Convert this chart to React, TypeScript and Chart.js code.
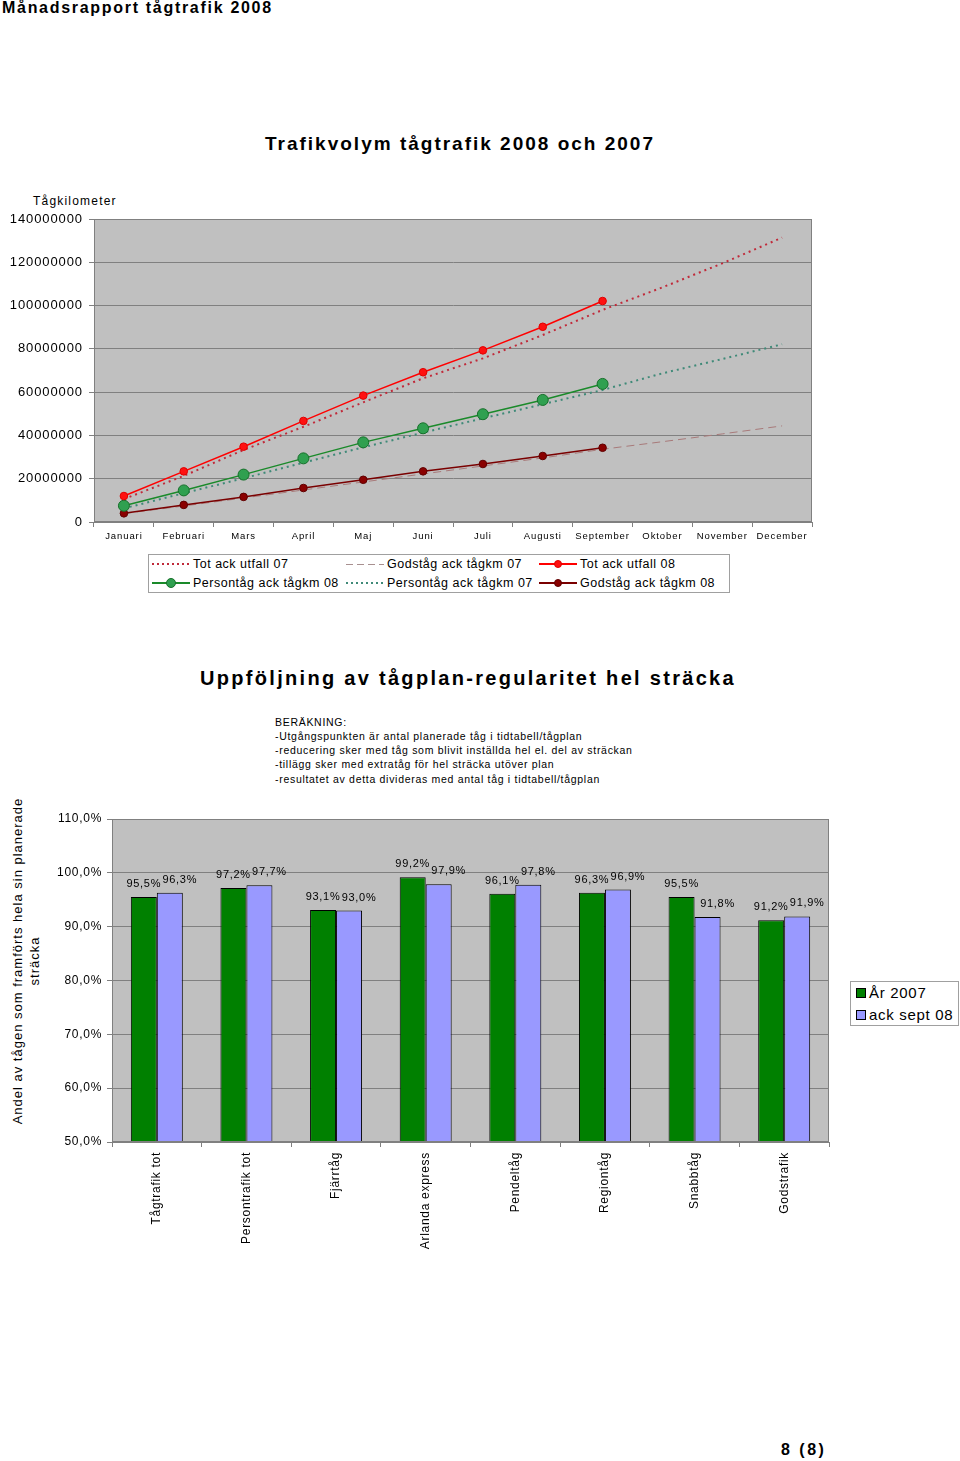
import React, { useEffect, useRef } from 'react';
import { Chart, registerables } from 'chart.js';

Chart.register(...registerables);

const FONT = '"Liberation Sans", Arial, Helvetica, sans-serif';

// ---- Line chart data (Tågkilometer) ----
const months = ['Januari', 'Februari', 'Mars', 'April', 'Maj', 'Juni', 'Juli', 'Augusti', 'September', 'Oktober', 'November', 'December'];
const yTickValues = [0, 20000000, 40000000, 60000000, 80000000, 100000000, 120000000, 140000000];
const totAckUtfall07 = [10600000, 21300000, 33300000, 44000000, 55300000, 66400000, 75600000, 86400000, 98000000, 108400000, 119500000, 131400000];
const godstagAck07 = [3900000, 7400000, 11100000, 14800000, 18500000, 22200000, 25900000, 29600000, 33600000, 37100000, 40700000, 44400000];
const persontagAck07 = [6300000, 13300000, 20200000, 27400000, 34500000, 41300000, 47900000, 54400000, 61000000, 68700000, 75300000, 82100000];
const totAckUtfall08 = [12000000, 23400000, 34800000, 46700000, 58400000, 69200000, 79300000, 90200000, 102100000];
const persontagAck08 = [7500000, 14600000, 21900000, 29400000, 36800000, 43300000, 49800000, 56400000, 63800000];
const godstagAck08 = [4000000, 7900000, 11600000, 15700000, 19500000, 23400000, 26800000, 30500000, 34300000];

// ---- Bar chart data (regularitet) ----
const barCategories = ['Tågtrafik tot', 'Persontrafik tot', 'Fjärrtåg', 'Arlanda express', 'Pendeltåg', 'Regiontåg', 'Snabbtåg', 'Godstrafik'];
const ar2007 = [95.5, 97.2, 93.1, 99.2, 96.1, 96.3, 95.5, 91.2];
const ackSept08 = [96.3, 97.7, 93.0, 97.9, 97.8, 96.9, 91.8, 91.9];
const barSeriesNames = ['År 2007', 'ack sept 08'];

const beraknText = [
  'BERÄKNING:',
  '-Utgångspunkten är antal planerade tåg i tidtabell/tågplan',
  '-reducering sker med tåg som blivit inställda hel el. del av sträckan',
  '-tillägg sker med extratåg för hel sträcka utöver plan',
  '-resultatet av detta divideras med antal tåg i tidtabell/tågplan',
];

const pct = (v: number) => v.toFixed(1).replace('.', ',') + '%';

function framePlugin(bg: string, border: string, spacing: string) {
  return {
    id: 'frame',
    beforeDraw(chart: any) {
      const { ctx, chartArea } = chart;
      const { left, top, right, bottom } = chartArea;
      ctx.save();
      ctx.fillStyle = bg;
      ctx.fillRect(left, top, right - left, bottom - top);
      ctx.restore();
      ctx.letterSpacing = spacing;
    },
    afterDraw(chart: any) {
      const { ctx, chartArea } = chart;
      const { left, top, right, bottom } = chartArea;
      ctx.save();
      ctx.strokeStyle = border;
      ctx.lineWidth = 1;
      ctx.strokeRect(Math.round(left) + 0.5, Math.round(top) + 0.5, Math.round(right - left) - 1, Math.round(bottom - top) - 1);
      ctx.restore();
      ctx.letterSpacing = '0px';
    },
  };
}

const barLabelPlugin = {
  id: 'barLabels',
  afterDatasetsDraw(chart: any) {
    const { ctx } = chart;
    ctx.save();
    ctx.letterSpacing = '0.7px';
    ctx.font = `11px ${FONT}`;
    ctx.fillStyle = '#000';
    ctx.textAlign = 'center';
    ctx.textBaseline = 'middle';
    chart.data.datasets.forEach((ds: any, di: number) => {
      const meta = chart.getDatasetMeta(di);
      meta.data.forEach((el: any, i: number) => {
        const dx = di === 1 ? 10 : 0;
        ctx.fillText(pct(ds.data[i]), el.x + dx, el.y - 13);
      });
    });
    ctx.restore();
  },
};

function LineChart() {
  const ref = useRef<HTMLCanvasElement>(null);
  useEffect(() => {
    const c = ref.current!;
    const chart = new Chart(c, {
      type: 'line',
      data: {
        labels: months,
        datasets: [
          { label: 'Tot ack utfall 08', data: totAckUtfall08, borderColor: '#ff0000', backgroundColor: '#ff1010', borderWidth: 1.5, pointRadius: 3.8, pointBackgroundColor: '#ff1010', pointBorderColor: '#e00000', pointBorderWidth: 1, order: 0 },
          { label: 'Persontåg ack tågkm 08', data: persontagAck08, borderColor: '#1a8a2a', backgroundColor: '#30a050', borderWidth: 1.5, pointRadius: 5.5, pointBackgroundColor: '#30a050', pointBorderColor: '#16702a', pointBorderWidth: 1, order: 0 },
          { label: 'Godståg ack tågkm 08', data: godstagAck08, borderColor: '#7a0000', backgroundColor: '#8a0000', borderWidth: 1.5, pointRadius: 3.8, pointBackgroundColor: '#8a0000', pointBorderColor: '#600000', pointBorderWidth: 1, order: 0 },
          { label: 'Tot ack utfall 07', data: totAckUtfall07, borderColor: '#c02a3a', borderWidth: 2, borderDash: [2, 4], pointRadius: 0, order: 1 },
          { label: 'Persontåg ack tågkm 07', data: persontagAck07, borderColor: '#3f8a78', borderWidth: 2, borderDash: [2, 4], pointRadius: 0, order: 1 },
          { label: 'Godståg ack tågkm 07', data: godstagAck07, borderColor: '#a87a7a', borderWidth: 1, borderDash: [8, 5], pointRadius: 0, order: 1 },
        ],
      },
      options: {
        animation: false,
        responsive: false,
        layout: { padding: { top: 14, right: 18, left: 0, bottom: 0 } },
        plugins: { legend: { display: false }, tooltip: { enabled: false } },
        scales: {
          x: {
            offset: true,
            grid: { display: true, drawOnChartArea: false, offset: true, tickLength: 5, color: '#808080' },
            border: { color: '#808080' },
            ticks: { color: '#000', font: { family: FONT, size: 9.5 }, padding: 4, maxRotation: 0, autoSkip: false },
            afterFit: (s: any) => { s.height = 28; },
          },
          y: {
            min: 0,
            max: 140000000,
            afterBuildTicks: (s: any) => { s.ticks = yTickValues.map((v) => ({ value: v })); },
            ticks: { color: '#000', font: { family: FONT, size: 13 }, padding: 6, callback: (v: any) => String(v) },
            grid: { color: '#808080', tickLength: 5 },
            border: { color: '#808080' },
            afterFit: (s: any) => { s.width = 94; },
          },
        },
      },
      plugins: [framePlugin('#c0c0c0', '#808080', '0.9px')],
    });
    return () => chart.destroy();
  }, []);
  return <canvas ref={ref} width={830} height={345} style={{ position: 'absolute', left: 0, top: 205, width: 830, height: 345 }} />;
}

function BarChart() {
  const ref = useRef<HTMLCanvasElement>(null);
  useEffect(() => {
    const c = ref.current!;
    const chart = new Chart(c, {
      type: 'bar',
      data: {
        labels: barCategories,
        datasets: [
          { label: barSeriesNames[0], data: ar2007, backgroundColor: '#008000', borderColor: '#000', borderWidth: 1, categoryPercentage: 0.58, barPercentage: 1 },
          { label: barSeriesNames[1], data: ackSept08, backgroundColor: '#9999ff', borderColor: '#000', borderWidth: 1, categoryPercentage: 0.58, barPercentage: 1 },
        ],
      },
      options: {
        animation: false,
        responsive: false,
        layout: { padding: { top: 24, right: 11, left: 0, bottom: 0 } },
        plugins: { legend: { display: false }, tooltip: { enabled: false } },
        scales: {
          x: {
            offset: true,
            grid: { display: true, drawOnChartArea: false, offset: true, tickLength: 5, color: '#808080' },
            border: { color: '#808080' },
            ticks: { color: '#000', font: { family: FONT, size: 12 }, padding: 5, minRotation: 90, maxRotation: 90, autoSkip: false },
            afterFit: (s: any) => { s.height = 118; },
          },
          y: {
            min: 50,
            max: 110,
            ticks: { stepSize: 10, color: '#000', font: { family: FONT, size: 12 }, padding: 5, callback: (v: any) => pct(Number(v)) },
            grid: { color: '#808080', tickLength: 5 },
            border: { color: '#808080' },
            afterFit: (s: any) => { s.width = 112; },
          },
        },
      },
      plugins: [framePlugin('#c0c0c0', '#808080', '0.7px'), barLabelPlugin],
    });
    return () => chart.destroy();
  }, []);
  return <canvas ref={ref} width={840} height={465} style={{ position: 'absolute', left: 0, top: 795, width: 840, height: 465 }} />;
}

type Sample = { color: string; style: 'solid' | 'dotted' | 'dashed'; marker?: { fill: string; border: string; size: number } };

function LegendSample({ x, y, s }: { x: number; y: number; s: Sample }) {
  let bg = s.color;
  let h = 2;
  if (s.style === 'dotted') bg = `repeating-linear-gradient(90deg, ${s.color} 0 2px, transparent 2px 5px)`;
  if (s.style === 'dashed') { bg = `repeating-linear-gradient(90deg, ${s.color} 0 7px, transparent 7px 11px)`; h = 1; }
  return (
    <>
      <div style={{ position: 'absolute', left: x, top: y - h / 2, width: 38, height: h, background: bg }} />
      {s.marker && (
        <div style={{ position: 'absolute', left: x + 19 - s.marker.size / 2, top: y - s.marker.size / 2, width: s.marker.size, height: s.marker.size, borderRadius: '50%', background: s.marker.fill, border: `1px solid ${s.marker.border}`, boxSizing: 'border-box' }} />
      )}
    </>
  );
}

const lineLegend: { label: string; col: number; row: number; s: Sample }[] = [
  { label: 'Tot ack utfall 07', col: 0, row: 0, s: { color: '#c02a3a', style: 'dotted' } },
  { label: 'Godståg ack tågkm 07', col: 1, row: 0, s: { color: '#a89090', style: 'dashed' } },
  { label: 'Tot ack utfall 08', col: 2, row: 0, s: { color: '#ff0000', style: 'solid', marker: { fill: '#ff1010', border: '#e00000', size: 8 } } },
  { label: 'Persontåg ack tågkm 08', col: 0, row: 1, s: { color: '#1a8a2a', style: 'solid', marker: { fill: '#30a050', border: '#16702a', size: 10 } } },
  { label: 'Persontåg ack tågkm 07', col: 1, row: 1, s: { color: '#3f8a78', style: 'dotted' } },
  { label: 'Godståg ack tågkm 08', col: 2, row: 1, s: { color: '#7a0000', style: 'solid', marker: { fill: '#8a0000', border: '#600000', size: 8 } } },
];
const legendColX = [152, 346, 539];
const legendRowY = [564, 583];

function Text({ x, y, children, size, bold, spacing, width, align }: any) {
  return (
    <div style={{ position: 'absolute', left: x, top: y - size * 0.6, width: width, height: size * 1.2, lineHeight: `${size * 1.2}px`, fontSize: size, fontWeight: bold ? 'bold' : 'normal', letterSpacing: spacing, fontFamily: FONT, whiteSpace: 'nowrap', textAlign: align || 'left', color: '#000' }}>
      {children}
    </div>
  );
}

export default function App() {
  return (
    <div style={{ position: 'absolute', left: 0, top: 0, width: 960, height: 1461, background: '#fff', fontFamily: FONT, overflow: 'hidden' }}>
      <Text x={2} y={8} size={16} bold spacing="1.7px">Månadsrapport tågtrafik 2008</Text>
      <Text x={0} y={144} size={19} bold spacing="2px" width={920} align="center">Trafikvolym tågtrafik 2008 och 2007</Text>
      <Text x={33} y={201} size={12} spacing="1.2px">Tågkilometer</Text>
      <LineChart />
      <div style={{ position: 'absolute', left: 148, top: 554, width: 580, height: 37, border: '1px solid #a0a0a0' }} />
      {lineLegend.map((l) => (
        <React.Fragment key={l.label}>
          <LegendSample x={legendColX[l.col]} y={legendRowY[l.row]} s={l.s} />
          <Text x={legendColX[l.col] + 41} y={legendRowY[l.row]} size={12.5} spacing="0.5px">{l.label}</Text>
        </React.Fragment>
      ))}

      <Text x={0} y={678} size={20} bold spacing="2.3px" width={936} align="center">Uppföljning av tågplan-regularitet hel sträcka</Text>
      {beraknText.map((t, i) => (
        <Text key={i} x={275} y={722 + i * 14.25} size={10.5} spacing="0.7px">{t}</Text>
      ))}

      <div style={{ position: 'absolute', left: 26 - 175, top: 961 - 17, width: 350, height: 34, lineHeight: '17px', fontSize: 13, letterSpacing: '1px', fontFamily: FONT, textAlign: 'center', whiteSpace: 'nowrap', transform: 'rotate(-90deg)', transformOrigin: 'center center' }}>
        Andel av tågen som framförts hela sin planerade<br />sträcka
      </div>
      <BarChart />
      <div style={{ position: 'absolute', left: 850, top: 981, width: 107, height: 43, border: '1px solid #a0a0a0' }} />
      {barSeriesNames.map((n, i) => (
        <React.Fragment key={n}>
          <div style={{ position: 'absolute', left: 856, top: 988 + i * 22, width: 10, height: 10, background: i === 0 ? '#008000' : '#9999ff', border: '1px solid #000', boxSizing: 'border-box' }} />
          <Text x={869} y={993 + i * 22} size={15} spacing="0.7px">{n}</Text>
        </React.Fragment>
      ))}

      <Text x={781} y={1450} size={16} bold spacing="2.5px">8 (8)</Text>
    </div>
  );
}
